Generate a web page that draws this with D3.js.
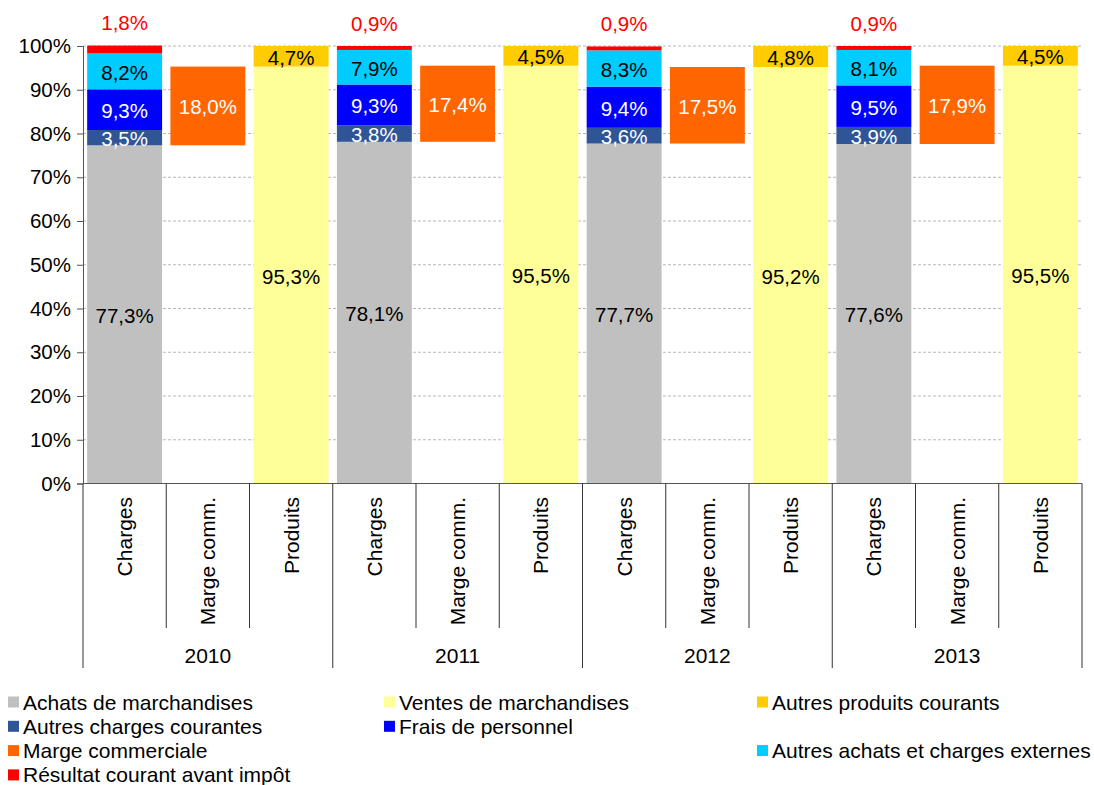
<!DOCTYPE html>
<html><head><meta charset="utf-8">
<script src="https://cdn.jsdelivr.net/npm/d3@7"></script>
<style>body{margin:0;background:#fff}svg{display:block;font-family:"Liberation Sans",Arial,sans-serif}</style>
</head><body><svg id="c" width="1094" height="785"></svg>
<script>
const years = ['2010','2011','2012','2013'];
const subCats = ['Charges','Marge comm.','Produits'];
const achats = [77.3,78.1,77.7,77.6];
const autresCharges = [3.5,3.8,3.6,3.9];
const frais = [9.3,9.3,9.4,9.5];
const autresAchats = [8.2,7.9,8.3,8.1];
const resultat = [1.8,0.9,0.9,0.9];
const marge = [18.0,17.4,17.5,17.9];
const ventes = [95.3,95.5,95.2,95.5];
const autresProduits = [4.7,4.5,4.8,4.5];
const yTicks = [0,10,20,30,40,50,60,70,80,90,100];

const series = [
  {name:'Achats de marchandises', color:'#C0C0C0', values:achats, col:0, lab:'#000'},
  {name:'Autres charges courantes', color:'#2F5597', values:autresCharges, col:0, lab:'#fff'},
  {name:'Frais de personnel', color:'#0000FF', values:frais, col:0, lab:'#fff'},
  {name:'Autres achats et charges externes', color:'#00CCFF', values:autresAchats, col:0, lab:'#000'},
  {name:'Résultat courant avant impôt', color:'#FF0000', values:resultat, col:0, lab:'#FF0000', above:true},
  {name:'Marge commerciale', color:'#FF6600', values:marge, col:1, lab:'#fff', baseFrom:achats},
  {name:'Ventes de marchandises', color:'#FFFF99', values:ventes, col:2, lab:'#000'},
  {name:'Autres produits courants', color:'#FFCC00', values:autresProduits, col:2, lab:'#000'}
];
const legendOrder = ['Achats de marchandises','Ventes de marchandises','Autres produits courants',
  'Autres charges courantes','Frais de personnel',null,
  'Marge commerciale',null,'Autres achats et charges externes',
  'Résultat courant avant impôt'];

const svg = d3.select('#c');
const L=83, R=1082, T=46, B=483.5;
const keys = [];
years.forEach(y=>subCats.forEach(s=>keys.push(y+'|'+s)));
const x = d3.scaleBand().domain(keys).range([L,R]).paddingInner(0.1).paddingOuter(0.05);
const y = d3.scaleLinear().domain([0,100]).range([B,T]);
const fmt = v => d3.format('.1f')(v).replace('.',',')+'%';

// gridlines
svg.append('g').selectAll('line').data(yTicks.filter(d=>d>0)).join('line')
  .attr('x1',L).attr('x2',R).attr('y1',d=>y(d)).attr('y2',d=>y(d))
  .attr('stroke','#b8b8b8').attr('stroke-dasharray','3,2').attr('stroke-width',1);

// bars
const rects=[], labels=[];
years.forEach((yr,i)=>{
  const acc=[0,0,0];
  series.forEach(s=>{
    const v=s.values[i];
    let b = s.baseFrom ? s.baseFrom[i] : acc[s.col];
    const k = yr+'|'+subCats[s.col];
    rects.push({x:x(k), w:x.bandwidth(), y0:b, y1:b+v, color:s.color});
    let ly = s.above ? y(b+v)-23 : y(b+v/2)+1;
    labels.push({x:x(k)+x.bandwidth()/2, y:ly, t:fmt(v), c:s.lab});
    if(!s.baseFrom) acc[s.col]=b+v;
  });
});
svg.append('g').selectAll('rect').data(rects).join('rect')
  .attr('x',d=>d.x).attr('width',d=>d.w)
  .attr('y',d=>y(d.y1)).attr('height',d=>y(d.y0)-y(d.y1))
  .attr('fill',d=>d.color);
svg.append('g').selectAll('text').data(labels).join('text')
  .attr('x',d=>d.x).attr('y',d=>d.y).attr('text-anchor','middle')
  .attr('dominant-baseline','central').attr('font-size',20.5).attr('fill',d=>d.c).text(d=>d.t);

// y axis
const ya = svg.append('g').attr('transform',`translate(${L},0)`)
  .call(d3.axisLeft(y).tickValues(yTicks).tickFormat(d=>d+'%').tickSize(6).tickPadding(6));
ya.select('.domain').attr('stroke','#555');
ya.selectAll('.tick line').attr('stroke','#555');
ya.selectAll('.tick text').attr('font-size',20.5).attr('fill','#000').attr('font-family','"Liberation Sans",Arial,sans-serif');

// x axis baseline
svg.append('line').attr('x1',L).attr('x2',R).attr('y1',B).attr('y2',B).attr('stroke','#555');
const step = x.step();
const seps = d3.range(13);
svg.append('g').selectAll('line').data(seps).join('line')
  .attr('x1',k=>L+k*step-0.5*0+ (k===0?0:0)).attr('x2',k=>L+k*step)
  .attr('y1',B).attr('y2',k=>k%3===0?668:628)
  .attr('stroke','#333').attr('stroke-width',1);
// category labels
svg.append('g').selectAll('text').data(keys).join('text')
  .attr('transform',k=>`translate(${x(k)+x.bandwidth()/2},497) rotate(-90)`)
  .attr('text-anchor','end').attr('dominant-baseline','central')
  .attr('font-size',21).text(k=>k.split('|')[1]);
// year labels
svg.append('g').selectAll('text').data(years).join('text')
  .attr('x',(d,i)=>L+(i*3+1.5)*step).attr('y',663).attr('text-anchor','middle')
  .attr('font-size',21).text(d=>d);

// legend
const colX=[8,384,757];
const lg = svg.append('g');
legendOrder.forEach((n,i)=>{
  if(!n) return;
  const s = series.find(d=>d.name===n);
  const cx = colX[i%3], cy = 702 + Math.floor(i/3)*24.3;
  lg.append('rect').attr('x',cx).attr('y',cy-5.5).attr('width',11).attr('height',11).attr('fill',s.color);
  lg.append('text').attr('x',cx+15).attr('y',cy).attr('dominant-baseline','central')
    .attr('font-size',21).text(n);
});
</script></body></html>
